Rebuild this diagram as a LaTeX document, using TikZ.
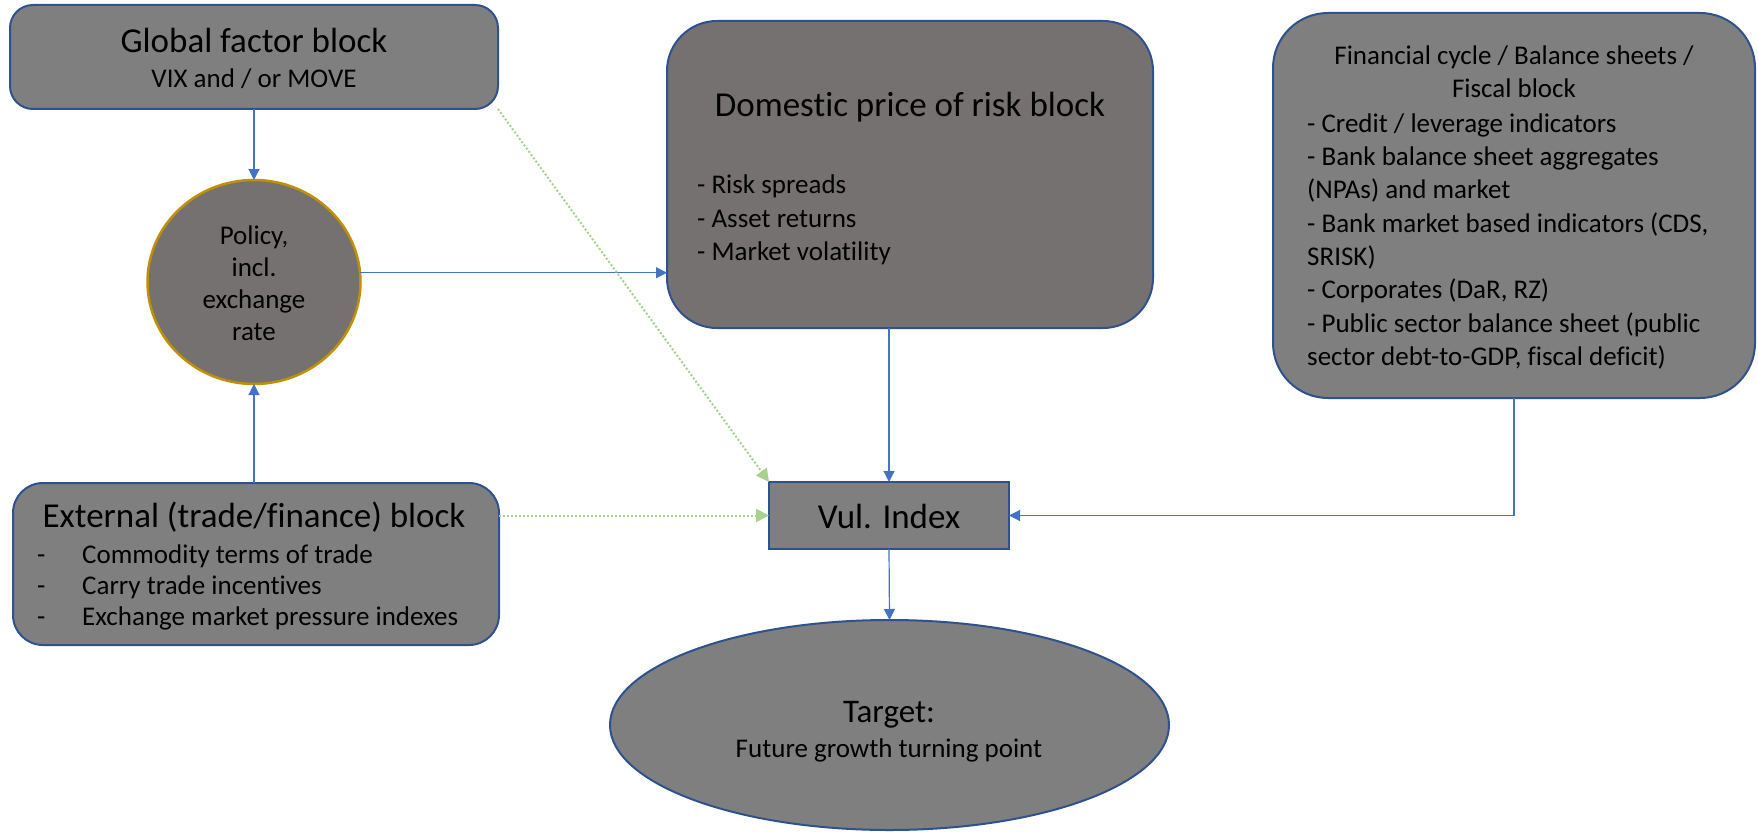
\documentclass[tikz,border=0pt]{standalone}
\usepackage{fontspec}
\setmainfont{Carlito}[Ligatures=NoCommon]
\usetikzlibrary{arrows.meta,shapes.geometric}
\definecolor{boxgray}{HTML}{7F7F7F}
\definecolor{warmgray}{HTML}{767171}
\definecolor{edgeblue}{HTML}{2F528F}
\definecolor{linkblue}{HTML}{4472C4}
\definecolor{linkgreen}{HTML}{A9D18E}
\definecolor{policygold}{HTML}{BF9000}
\begin{document}
\begin{tikzpicture}[x=1pt,y=-1pt,
  blockbox/.style={draw=edgeblue, line width=2pt, fill=boxgray, inner sep=0pt, outer sep=0pt},
  titletext/.style={font=\fontsize{35}{42}\selectfont, anchor=base, inner sep=0pt},
  bodytext/.style={font=\fontsize{27}{33}\selectfont, anchor=base, inner sep=0pt},
  itemtext/.style={font=\fontsize{27}{33}\selectfont, anchor=base west, inner sep=0pt},
  link/.style={draw=linkblue, line width=1.2pt, -{Triangle[length=11pt,width=11pt]}},
  softlink/.style={draw=linkgreen, line width=2pt, dash pattern=on 2pt off 2pt, -{Triangle[length=13pt,width=13pt]}}]

\fill[white] (0,0) rectangle (1758,832);
\useasboundingbox (0,0) rectangle (1758,832);

% Global factor block
\node[blockbox, rounded corners=23pt, minimum width=488pt, minimum height=104pt] (global) at (254,57) {};
\node[titletext] (globalT) at (254,53) {Global factor block};
\node[bodytext] (globalS) at (254,88) {VIX and / or MOVE};

% Policy circle
\node[ellipse, draw=policygold, line width=2.5pt, fill=warmgray, minimum width=213pt, minimum height=204pt, inner sep=0pt, outer sep=0pt] (policy) at (254,282) {};
\node[bodytext] (pol1) at (254,244) {Policy,};
\node[bodytext] (pol2) at (254,276) {incl.};
\node[bodytext] (pol3) at (254,308) {exchange};
\node[bodytext] (pol4) at (254,340) {rate};

% Domestic price of risk block
\node[blockbox, fill=warmgray, rounded corners=50pt, minimum width=486pt, minimum height=307pt] (domestic) at (910,174.5) {};
\node[titletext] (domT) at (910,117) {Domestic price of risk block};
\node[itemtext] (dom1) at (697,193) {- Risk spreads};
\node[itemtext] (dom2) at (697,227) {- Asset returns};
\node[itemtext] (dom3) at (697,260) {- Market volatility};

% Financial cycle / balance sheets / fiscal block
\node[blockbox, rounded corners=55pt, minimum width=482pt, minimum height=385pt] (financial) at (1514,205.5) {};
\node[bodytext] (finT1) at (1514,65) {Financial cycle / Balance sheets /};
\node[bodytext] (finT2) at (1514,98) {Fiscal block};
\node[itemtext] (fin1) at (1307,132) {- Credit / leverage indicators};
\node[itemtext] (fin2) at (1307,165) {- Bank balance sheet aggregates};
\node[itemtext] (fin3) at (1307,198) {(NPAs) and market};
\node[itemtext] (fin4) at (1307,232) {- Bank market based indicators (CDS,};
\node[itemtext] (fin5) at (1307,265) {SRISK)};
\node[itemtext] (fin6) at (1307,298) {- Corporates (DaR, RZ)};
\node[itemtext] (fin7) at (1307,332) {- Public sector balance sheet (public};
\node[itemtext] (fin8) at (1307,365) {sector debt-to-GDP, fiscal deficit)};

% External block
\node[blockbox, rounded corners=30pt, minimum width=486pt, minimum height=162pt] (external) at (256,564) {};
\node[titletext] (extT) at (254,527) {External (trade/finance) block};
\node[itemtext] (extD1) at (37,563) {-};
\node[itemtext] (ext1) at (82,563) {Commodity terms of trade};
\node[itemtext] (extD2) at (37,594) {-};
\node[itemtext] (ext2) at (82,594) {Carry trade incentives};
\node[itemtext] (extD3) at (37,625) {-};
\node[itemtext] (ext3) at (82,625) {Exchange market pressure indexes};

% Vulnerability index
\node[blockbox, minimum width=240pt, minimum height=67pt] (vul) at (889,515.5) {};
\node[titletext] (vulT) at (889,528) {Vul. Index};

% Target
\node[ellipse, blockbox, minimum width=559pt, minimum height=210pt] (target) at (889.5,725) {};
\node[titletext, font=\fontsize{33}{40}\selectfont] (tgtT) at (889,722) {Target:};
\node[bodytext] (tgtS) at (889,757) {Future growth turning point};

% Connectors
\draw[link] (global.south) -- (policy.north);
\draw[link] (external.north -| policy.south) -- (policy.south);
\draw[link] (policy.5.5) -- (policy.5.5 -| domestic.west);
\draw[link] (vul.north |- domestic.south) -- (vul.north);
\draw[link] (vul.south) -- (target.north);
\draw[link] (financial.south) |- (vul.east);
\draw[softlink] (global.south east) -- (vul.north west);
\draw[softlink] (external.east |- vul.west) -- (vul.west);
\end{tikzpicture}
\end{document}
